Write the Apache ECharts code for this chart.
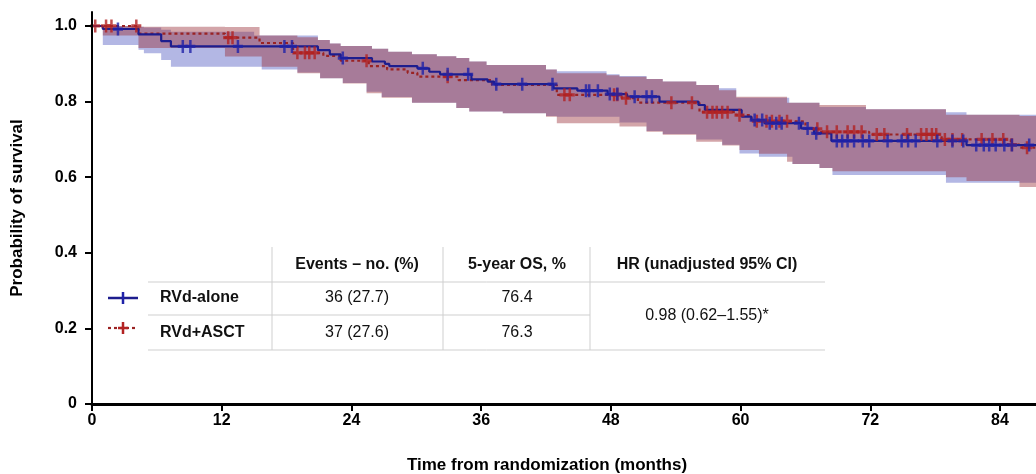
<!DOCTYPE html>
<html><head><meta charset="utf-8">
<script src="https://cdn.jsdelivr.net/npm/echarts@6/dist/echarts.min.js"></script>
<style>html,body{margin:0;padding:0;background:#fff}#c{width:1036px;height:474px}</style>
</head><body><div id="c"></div>
<script>
// ---------- data ----------
const xTicks = [0, 12, 24, 36, 48, 60, 72, 84];
const yTicks = [0, 0.2, 0.4, 0.6, 0.8, 1.0];
const X_MAX = 87.33, Y_MAX = 1.037;

// Kaplan-Meier steps [month, survival from that month on]
const blueSteps = [[0,1.0],[1.0,0.992],[4.3,0.978],[6.4,0.960],[7.3,0.946],[20.9,0.936],[22.0,0.925],[23.0,0.915],[25.9,0.906],[27.1,0.900],[27.5,0.894],[30.1,0.888],[31.2,0.879],[32.2,0.872],[35.1,0.859],[36.6,0.853],[37.2,0.846],[42.7,0.835],[44.9,0.829],[47.7,0.820],[49.5,0.813],[52.5,0.800],[56.1,0.791],[56.7,0.778],[60.1,0.760],[61.0,0.751],[62.2,0.743],[65.6,0.729],[66.8,0.716],[68.4,0.696],[80.9,0.685]];
const redSteps = [[0,1.0],[4.3,0.980],[12.3,0.969],[15.5,0.955],[18.6,0.929],[21.4,0.921],[23.0,0.908],[25.6,0.894],[27.3,0.885],[29.2,0.876],[30.1,0.866],[33.9,0.857],[37.0,0.844],[43.0,0.818],[49.0,0.809],[50.5,0.797],[56.2,0.772],[59.6,0.764],[61.0,0.748],[66.0,0.728],[67.2,0.720],[71.9,0.713],[78.6,0.700],[85.0,0.686],[85.8,0.678]];

// censoring times (months)
const blueCensor = [2.4,8.4,9.1,13.5,17.8,18.5,23.2,30.6,32.9,34.8,37.4,39.8,42.6,45.7,46.0,46.8,47.9,48.6,50.2,51.3,51.8,61.3,62.0,62.7,63.3,63.8,65.4,66.2,67.0,68.9,69.4,69.9,70.5,71.3,71.9,73.6,74.9,75.5,76.2,78.2,79.6,80.6,81.8,82.5,83.0,83.6,84.4,85.1,86.7];
const redCensor = [0.3,1.3,1.8,4.1,12.6,13.0,19.0,19.7,20.1,20.6,25.4,32.9,43.7,44.2,48.3,48.6,49.4,53.6,55.5,56.9,57.4,57.8,58.3,58.8,59.9,61.5,62.4,62.9,63.6,64.3,67.1,68.0,68.9,69.9,70.5,71.2,72.6,73.3,75.4,76.7,77.2,77.7,78.1,78.9,79.6,80.5,82.3,83.3,84.3,85.1,86.5];

// 95% CI bands [month, lower, upper]
const blueBand = [[0,1,1],[1,0.95,1],[4.3,0.937,0.998],[4.8,0.928,0.996],[6.4,0.91,0.99],[7.3,0.892,0.985],[15,0.892,0.975],[15.7,0.885,0.975],[19,0.877,0.975],[20.9,0.877,0.963],[21.1,0.862,0.963],[22,0.862,0.954],[23,0.862,0.947],[23.2,0.849,0.947],[25.4,0.826,0.947],[25.9,0.826,0.94],[26.8,0.812,0.94],[27.4,0.812,0.932],[29.6,0.797,0.925],[31.9,0.797,0.92],[33.7,0.783,0.915],[34.9,0.774,0.906],[36.5,0.774,0.897],[38,0.769,0.897],[42,0.762,0.885],[43,0.76,0.88],[47.6,0.76,0.872],[48.8,0.745,0.868],[51.3,0.722,0.86],[52.8,0.714,0.853],[55.9,0.70,0.844],[58,0.70,0.835],[58.3,0.686,0.835],[59.6,0.686,0.81],[59.9,0.663,0.81],[61.7,0.654,0.81],[64.5,0.654,0.797],[64.8,0.635,0.797],[67.3,0.624,0.786],[68.5,0.606,0.786],[71.6,0.606,0.78],[79,0.585,0.772],[80.9,0.585,0.765]];
const redBand = [[0,1,1],[1,0.975,1],[4.3,0.942,0.998],[12.3,0.919,0.997],[15.5,0.919,0.975],[15.7,0.892,0.975],[19,0.875,0.97],[20.9,0.875,0.963],[21.1,0.862,0.963],[22,0.862,0.954],[23,0.862,0.947],[23.2,0.848,0.947],[25.4,0.822,0.947],[25.9,0.822,0.94],[26.8,0.81,0.94],[27.4,0.81,0.932],[29.6,0.797,0.925],[31.9,0.797,0.92],[33.7,0.783,0.915],[34.9,0.774,0.906],[36.5,0.774,0.897],[38,0.769,0.897],[42,0.760,0.885],[43,0.743,0.875],[47.6,0.743,0.87],[48.8,0.734,0.866],[51.3,0.72,0.86],[52.8,0.712,0.853],[55.9,0.694,0.844],[58,0.694,0.83],[58.3,0.684,0.83],[59.6,0.684,0.813],[59.9,0.672,0.813],[61.7,0.662,0.813],[64.3,0.641,0.797],[64.8,0.635,0.797],[67.3,0.624,0.791],[68.5,0.616,0.791],[71.6,0.616,0.78],[79,0.60,0.765],[80.9,0.59,0.765],[85.8,0.574,0.762]];

// table
const groupNames = ['RVd-alone', 'RVd+ASCT'];
const tableHeaders = ['Events – no. (%)', '5-year OS, %', 'HR (unadjusted 95% CI)'];
const eventsCol = ['36 (27.7)', '37 (27.6)'];
const osCol = ['76.4', '76.3'];
const hrText = '0.98 (0.62–1.55)*';

// ---------- styles ----------
const FONT = '"Liberation Sans", Arial, sans-serif';
const BLUE_LINE = '#1d1d8e', RED_LINE = '#9a2323';
const BLUE_MARK = '#1f22a8', RED_MARK = '#b22222';
const BLUE_BAND = 'rgba(55,65,185,0.38)', RED_BAND = 'rgba(150,40,50,0.42)';
const PLUS = 'path://M3.75,0H6.25V3.75H10V6.25H6.25V10H3.75V6.25H0V3.75H3.75Z';

function stepAt(steps, t) { let v = steps[0][1]; for (const s of steps) { if (s[0] <= t) v = s[1]; else break; } return v; }
function lineData(steps) { return steps.concat([[X_MAX, steps[steps.length - 1][1]]]); }

function bandSeries(band, color) {
  return {
    type: 'custom', silent: true, z: 1, clip: true,
    encode: { x: 0, y: [1, 2] },
    data: band,
    renderItem: function (params, api) {
      if (params.dataIndex !== 0) return null;
      const up = [], lo = [];
      for (let i = 0; i < band.length; i++) {
        const x0 = band[i][0];
        const x1 = i + 1 < band.length ? band[i + 1][0] : X_MAX;
        up.push(api.coord([x0, band[i][2]]), api.coord([x1, band[i][2]]));
        lo.push(api.coord([x0, band[i][1]]), api.coord([x1, band[i][1]]));
      }
      const pts = up.concat(lo.reverse());
      return { type: 'polygon', shape: { points: pts }, style: { fill: color, stroke: null } };
    }
  };
}

const chart = echarts.init(document.getElementById('c'));

// table graphic
const g = [];
const gray = '#cfcfcf';
function hl(x1, x2, y) { g.push({ type: 'line', shape: { x1, y1: y, x2, y2: y }, style: { stroke: gray, lineWidth: 1 }, z: 10 }); }
function vl(x, y1, y2) { g.push({ type: 'line', shape: { x1: x, y1, x2: x, y2 }, style: { stroke: gray, lineWidth: 1 }, z: 10 }); }
function tx(text, x, y, align, bold) {
  g.push({ type: 'text', x, y, z: 10, style: { text, fill: '#111', font: (bold ? 'bold ' : '') + '16px ' + FONT, textAlign: align, textVerticalAlign: 'middle' } });
}
hl(148, 825, 282); hl(148, 590, 315); hl(148, 825, 350);
vl(272, 247, 350); vl(443, 247, 350); vl(590, 247, 350);
const colX = [357, 517, 707];
tableHeaders.forEach((h, i) => tx(h, colX[i], 265, 'center', true));
const rowY = [298, 333];
groupNames.forEach((n, i) => {
  tx(n, 160, rowY[i], 'left', true);
  tx(eventsCol[i], colX[0], rowY[i], 'center', false);
  tx(osCol[i], colX[1], rowY[i], 'center', false);
});
tx(hrText, colX[2], 316, 'center', false);
// legend keys
g.push({ type: 'line', shape: { x1: 108, y1: 298, x2: 138, y2: 298 }, style: { stroke: BLUE_LINE, lineWidth: 2.5 }, z: 10 });
g.push({ type: 'line', shape: { x1: 123, y1: 292, x2: 123, y2: 304 }, style: { stroke: BLUE_MARK, lineWidth: 2.5 }, z: 10 });
g.push({ type: 'line', shape: { x1: 108, y1: 328, x2: 138, y2: 328 }, style: { stroke: RED_LINE, lineWidth: 2.2, lineDash: [3, 3] }, z: 10 });
g.push({ type: 'line', shape: { x1: 118, y1: 328, x2: 128, y2: 328 }, style: { stroke: RED_MARK, lineWidth: 2.5 }, z: 10 });
g.push({ type: 'line', shape: { x1: 123, y1: 322, x2: 123, y2: 334 }, style: { stroke: RED_MARK, lineWidth: 2.5 }, z: 10 });

const axisText = { color: '#000', fontWeight: 'bold', fontSize: 16, fontFamily: FONT };

chart.setOption({
  animation: false,
  backgroundColor: '#fff',
  grid: { left: 92, right: 0, top: 12, bottom: 70, containLabel: false, outerBoundsMode: 'none' },
  xAxis: {
    type: 'value', min: 0, max: X_MAX, interval: 12, z: 5,
    axisLine: { lineStyle: { color: '#000', width: 3 } },
    axisTick: { show: true, customValues: xTicks, length: 7, lineStyle: { color: '#000', width: 2 } },
    axisLabel: Object.assign({ customValues: xTicks, margin: 9 }, axisText),
    splitLine: { show: false },
    name: 'Time from randomization (months)', nameLocation: 'middle', nameGap: 53,
    nameTextStyle: { color: '#000', fontWeight: 'bold', fontSize: 17, fontFamily: FONT, padding: [0, 34, 0, 0] }
  },
  yAxis: {
    type: 'value', min: 0, max: Y_MAX, z: 5,
    axisLine: { show: true, lineStyle: { color: '#000', width: 2 } },
    axisTick: { show: true, customValues: yTicks, length: 7, lineStyle: { color: '#000', width: 2 } },
    axisLabel: Object.assign({ customValues: yTicks, margin: 15, formatter: v => v === 0 ? '0' : v.toFixed(1) }, axisText),
    splitLine: { show: false },
    name: 'Probability of survival', nameLocation: 'middle', nameGap: 66,
    nameTextStyle: { color: '#000', fontWeight: 'bold', fontSize: 17, fontFamily: FONT }
  },
  series: [
    bandSeries(blueBand, BLUE_BAND),
    bandSeries(redBand, RED_BAND),
    { type: 'line', step: 'end', symbol: 'none', z: 3, silent: true,
      lineStyle: { color: RED_LINE, width: 2.2, type: [3, 3] }, data: lineData(redSteps) },
    { type: 'line', step: 'end', symbol: 'none', z: 3, silent: true,
      lineStyle: { color: BLUE_LINE, width: 2.2 }, data: lineData(blueSteps) },
    { type: 'scatter', symbol: PLUS, symbolSize: [10, 13], z: 4, silent: true,
      itemStyle: { color: RED_MARK }, data: redCensor.map(t => [t, stepAt(redSteps, t)]) },
    { type: 'scatter', symbol: PLUS, symbolSize: [10, 13], z: 4, silent: true,
      itemStyle: { color: BLUE_MARK }, data: blueCensor.map(t => [t, stepAt(blueSteps, t)]) }
  ],
  graphic: g
});
</script></body></html>
